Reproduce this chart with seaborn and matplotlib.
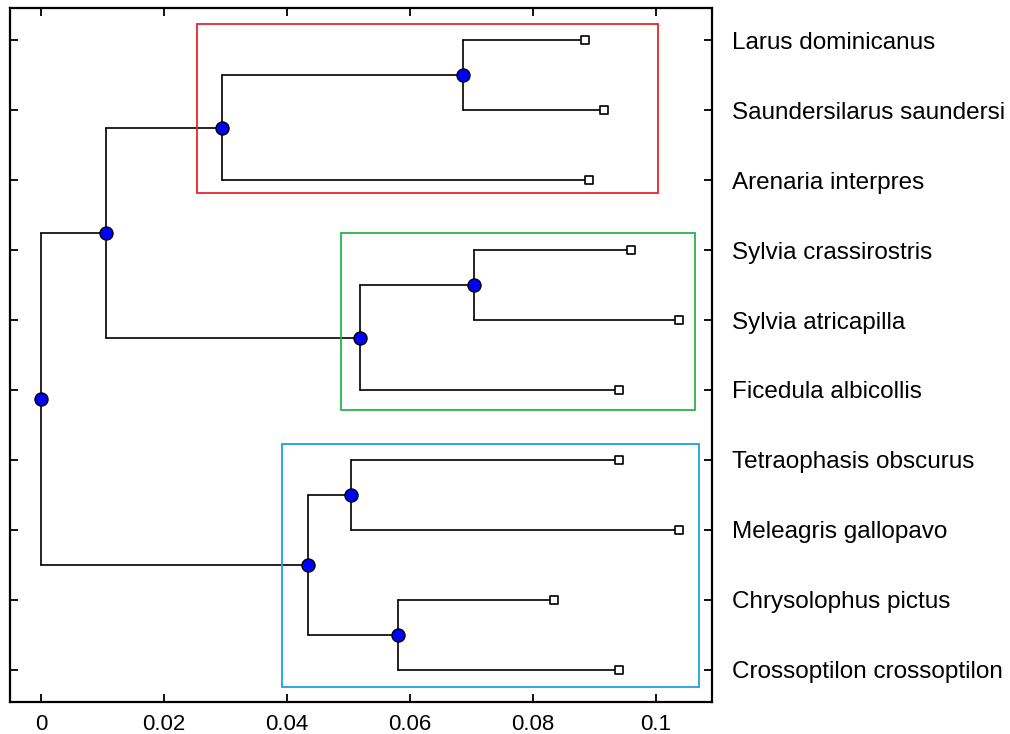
import matplotlib
matplotlib.use("Agg")
import matplotlib.pyplot as plt
import seaborn as sns
import pandas as pd
from matplotlib.patches import Rectangle

# ---- data ----
labels = ["Larus dominicanus", "Saundersilarus saundersi", "Arenaria interpres",
          "Sylvia crassirostris", "Sylvia atricapilla", "Ficedula albicollis",
          "Tetraophasis obscurus", "Meleagris gallopavo", "Chrysolophus pictus",
          "Crossoptilon crossoptilon"]
leaf_dist = [0.0885, 0.0915, 0.0891, 0.0959, 0.1037, 0.0940, 0.0940, 0.1037, 0.0834, 0.0940]
# internal nodes (ids 10..): child a, child b, height
merge_a = [0, 10, 3, 12, 11, 6, 8, 15, 14]
merge_b = [1, 2, 4, 5, 13, 7, 9, 16, 17]
merge_h = [0.0686, 0.0294, 0.0704, 0.0519, 0.0106, 0.0504, 0.0580, 0.0434, 0.0]
# cluster boxes: x0, x1, y0, y1 (leaf units), color
box_x0 = [0.0254, 0.0488, 0.0392]
box_x1 = [0.1003, 0.1063, 0.1070]
box_y0 = [0.77, 3.75, 6.77]
box_y1 = [3.19, 6.28, 10.24]
box_col = ["#e8242c", "#2bb24c", "#1aa3e0"]
xticks = [0, 0.02, 0.04, 0.06, 0.08, 0.1]
xtick_labels = ["0", "0.02", "0.04", "0.06", "0.08", "0.1"]

# ---- build tree geometry ----
n = len(labels)
xs = list(leaf_dist)
ys = [i + 1 for i in range(n)]
rows = []
seg = 0
for a, b, h in zip(merge_a, merge_b, merge_h):
    ya, yb = ys[a], ys[b]
    # vertical
    rows += [dict(seg=seg, x=h, y=ya), dict(seg=seg, x=h, y=yb)]
    seg += 1
    for c in (a, b):
        rows += [dict(seg=seg, x=h, y=ys[c]), dict(seg=seg, x=xs[c], y=ys[c])]
        seg += 1
    xs.append(h)
    ys.append((ya + yb) / 2)
segs = pd.DataFrame(rows)
leaves = pd.DataFrame(dict(x=xs[:n], y=ys[:n]))
nodes = pd.DataFrame(dict(x=xs[n:], y=ys[n:]))

# ---- draw ----
sns.set_style("white")
plt.rcParams["font.family"] = ["Liberation Sans", "DejaVu Sans"]
fig = plt.figure(figsize=(10.1, 7.34), dpi=100)
ax = fig.add_axes([10 / 1010, 1 - 702 / 734, 702 / 1010, 694 / 734])

sns.lineplot(data=segs, x="x", y="y", units="seg", estimator=None, sort=False,
             color="black", linewidth=1.2, ax=ax, zorder=2, legend=False)
for x0, x1, y0, y1, c in zip(box_x0, box_x1, box_y0, box_y1, box_col):
    ax.add_patch(Rectangle((x0, y0), x1 - x0, y1 - y0, fill=False, edgecolor=c,
                           linewidth=1.3, zorder=3))
sns.scatterplot(data=leaves, x="x", y="y", marker="s", s=38, facecolor="white",
                edgecolor="black", linewidth=1.2, ax=ax, zorder=4)
sns.scatterplot(data=nodes, x="x", y="y", marker="o", s=88, color="#0000ff",
                edgecolor="black", linewidth=1.0, ax=ax, zorder=5)

ax.set_xlim(-0.00504, 0.1091)
ax.set_ylim(10.46, 0.54)
ax.set_xticks(xticks)
ax.set_xticklabels(xtick_labels)
ax.set_yticks(ys[:n])
ax.set_yticklabels(labels)
ax.set_xlabel("")
ax.set_ylabel("")
ax.tick_params(axis="x", direction="in", length=6, width=1.3, top=True, bottom=True,
               labelsize=16, pad=9, colors="black")
ax.tick_params(axis="y", direction="in", length=6, width=1.3, left=True, right=True,
               labelleft=False, labelright=True, labelsize=17.5, pad=14.5, colors="black")
for sp in ax.spines.values():
    sp.set_visible(True)
    sp.set_color("black")
    sp.set_linewidth(1.6)

fig.savefig("out.png", dpi=100, facecolor="white")
